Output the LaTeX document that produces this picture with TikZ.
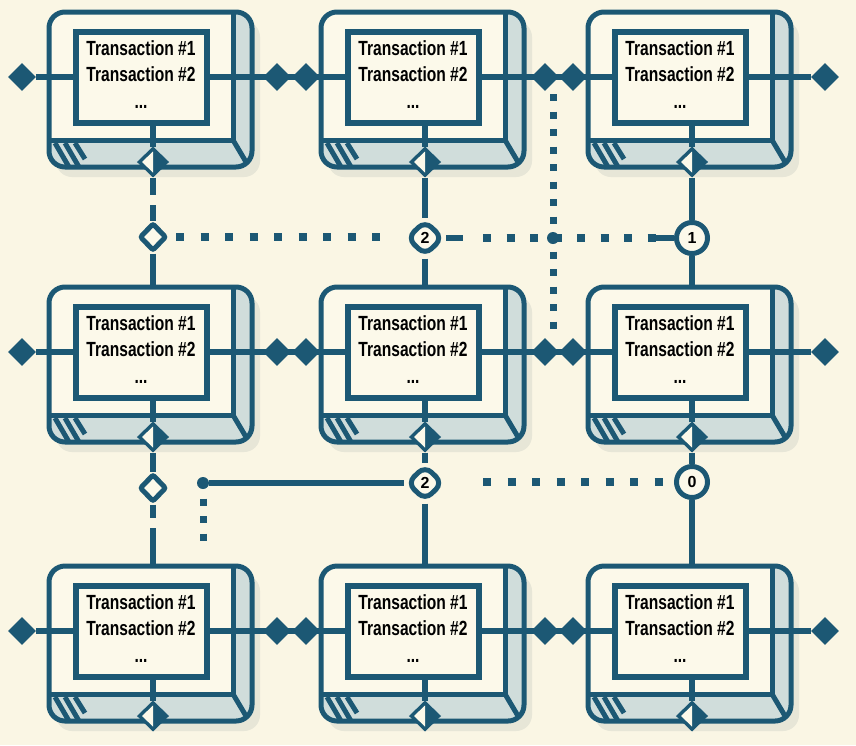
\documentclass[tikz,border=0pt]{standalone}
\usepackage{fontspec}
\setmainfont{Liberation Sans}
\usetikzlibrary{shapes.geometric}
\pgfdeclarelayer{bg}
\pgfdeclarelayer{blk}
\pgfdeclarelayer{lns}
\pgfsetlayers{bg,blk,lns,main}
\definecolor{bgc}{RGB}{250,246,228}
\definecolor{ln}{RGB}{28,88,116}
\definecolor{face}{RGB}{252,249,234}
\definecolor{side}{RGB}{208,221,219}
\definecolor{shad}{RGB}{231,230,215}
\tikzset{
  edge/.style={draw=ln, line width=5pt},
  conn/.style={draw=ln, line width=5.5pt},
  dotsh/.style={draw=ln, line width=8pt, dash pattern=on 8pt off 16.5pt},
  dotsm/.style={draw=ln, line width=8pt, dash pattern=on 8pt off 15.5pt},
  dotsv/.style={draw=ln, line width=7pt, dash pattern=on 7pt off 10.5pt},
  panel/.style={rectangle, draw=ln, line width=6pt, fill=face, minimum width=131pt,
    minimum height=91pt, inner sep=0pt, font=\bfseries\fontsize{20.5}{26}\selectfont},
  fdia/.style={diamond, fill=ln, minimum width=28pt, minimum height=28pt, inner sep=0pt},
  bdia/.style={diamond, fill=ln, draw=ln, line width=2pt, minimum width=30pt, minimum height=29pt, inner sep=0pt},
  hdia/.style={diamond, draw=ln, line width=5pt, fill=face, minimum width=27pt,
    minimum height=28pt, inner sep=0pt, rounded corners=2pt},
  numdia/.style={diamond, draw=ln, line width=5pt, fill=face, minimum width=37pt,
    minimum height=36pt, inner sep=0pt, rounded corners=9pt, font=\bfseries\fontsize{16}{16}\selectfont},
  circmark/.style={circle, draw=ln, line width=5pt, fill=face, minimum size=31pt,
    inner sep=0pt, font=\bfseries\fontsize{16}{16}\selectfont},
  dotnode/.style={circle, fill=ln, minimum size=12pt, inner sep=0pt},
}
\newcommand\txtlines{\scalebox{0.76}[1]{\begin{tabular}{@{}c@{}}Transaction \#1\\Transaction \#2\\[1pt]...\end{tabular}}}
\newcommand\blockat[3]{%
  \begin{scope}[shift={(#2,#3)}]
    \fill[shad, rounded corners=16pt] (7,9) rectangle (211,165);
    \begin{scope}
      \clip[rounded corners=16pt] (0,0) rectangle (203,155);
      \fill[side] (0,0) rectangle (203,155);
      \fill[face] (0,0) rectangle (184,128);
      \draw[edge] (184,0) -- (184,128) -- (0,128);
      \draw[edge] (184,128) -- (200,155);
      \draw[edge] (6,131) -- (20,155);
      \draw[edge] (16,131) -- (30,155);
      \draw[edge] (26,131) -- (36,147);
    \end{scope}
    \draw[edge, rounded corners=16pt] (0,0) rectangle (203,155);
    \node[panel] (#1) at (92,65) {\txtlines};
    \coordinate (#1t) at (104,0);
  \end{scope}}
\newcommand\halfdia[1]{\fill[face] ([yshift=-5pt]#1.north) -- ([xshift=5pt]#1.west) -- ([yshift=5pt]#1.south) -- cycle;}
\begin{document}
\begin{tikzpicture}[x=1pt,y=-1pt]
\begin{pgfonlayer}{bg}
  \fill[bgc] (0,0) rectangle (856,745);
\end{pgfonlayer}
\useasboundingbox (0,0) rectangle (856,745);
\begin{pgfonlayer}{blk}
  \blockat{p11}{49}{12}
  \blockat{p12}{321}{12}
  \blockat{p13}{588}{12}
  \blockat{p21}{49}{287}
  \blockat{p22}{321}{287}
  \blockat{p23}{588}{287}
  \blockat{p31}{49}{566}
  \blockat{p32}{321}{566}
  \blockat{p33}{588}{566}
\end{pgfonlayer}
% filled diamonds on the horizontal chains
\foreach \r/\y in {1/77,2/352,3/631}{
  \node[fdia] (l\r) at (22,\y) {};
  \node[fdia] (e\r) at (825,\y) {};
  \node[fdia] (a\r) at (277,\y) {};
  \node[fdia] (ab\r) at (306,\y) {};
  \node[fdia] (c\r) at (545,\y) {};
  \node[fdia] (cb\r) at (573,\y) {};
}
% bottom diamonds of blocks
\foreach \r/\y in {1/162,2/437,3/716}{
  \node[bdia] (b\r1) at (153,\y) {};
  \node[bdia] (b\r2) at (425,\y) {};
  \node[bdia] (b\r3) at (692,\y) {};
  \halfdia{b\r1}\halfdia{b\r2}\halfdia{b\r3}
}
% markers
\node[hdia] (h1) at (153,237) {};
\node[hdia] (h2) at (153,488) {};
\node[numdia] (m1) at (425,238) {2};
\node[numdia] (m2) at (425,483) {2};
\node[circmark] (q1) at (692,238) {1};
\node[circmark] (q0) at (692,482) {0};
\node[dotnode] (dt1) at (553,238) {};
\node[dotnode] (dt2) at (203,483) {};
% free ends
\coordinate (g1) at (153,195);
\coordinate (g2) at (153,205);
\coordinate (g3) at (153,518);
\coordinate (g4) at (153,528);
\coordinate (k0) at (176,237);
\coordinate (k1) at (386,237);
\coordinate (k2) at (463,238);
\coordinate (k3) at (483,238);
\coordinate (k4) at (656,238);
\coordinate (k5) at (655,238);
\coordinate (v1) at (553,94);
\coordinate (v2) at (553,336);
\coordinate (v3) at (203,498.5);
\coordinate (v4) at (203,545);
\coordinate (w1) at (483,482);
\begin{pgfonlayer}{lns}
  \foreach \r in {1,2,3}{
    \draw[conn] (l\r) -- (p\r1.west);
    \draw[conn] (p\r1.east) -- (p\r2.west);
    \draw[conn] (p\r2.east) -- (p\r3.west);
    \draw[conn] (p\r3.east) -- (e\r);
    \foreach \c in {1,2,3}{
      \draw[conn] (p\r\c.south -| b\r\c) -- (b\r\c);
    }
  }
  % column 1
  \draw[conn] (b11) -- (g1);
  \draw[conn] (g2) -- (h1);
  \draw[conn] (h1) -- (p21t);
  \draw[conn] (b21) -- (h2);
  \draw[conn] (h2) -- (g3);
  \draw[conn] (g4) -- (p31t);
  % column 2
  \draw[conn] (b12) -- (m1);
  \draw[conn] (m1) -- (p22t);
  \draw[conn] (b22) -- (m2);
  \draw[conn] (m2) -- (p32t);
  % column 3
  \draw[conn] (b13) -- (q1);
  \draw[conn] (q1) -- (p23t);
  \draw[conn] (b23) -- (q0);
  \draw[conn] (q0) -- (p33t);
  % upper cross links
  \draw[dotsh] (k0) -- (k1);
  \draw[conn] (m1) -- (k2);
  \draw[dotsm] (k3) -- (k4);
  \draw[conn] (k5) -- (q1);
  \draw[dotsv] (v1) -- (v2);
  % lower cross links
  \draw[conn] (dt2) -- (m2);
  \draw[dotsv] (v3) -- (v4);
  \draw[dotsh] (w1) -- (q0.west);
\end{pgfonlayer}
\end{tikzpicture}
\end{document}
